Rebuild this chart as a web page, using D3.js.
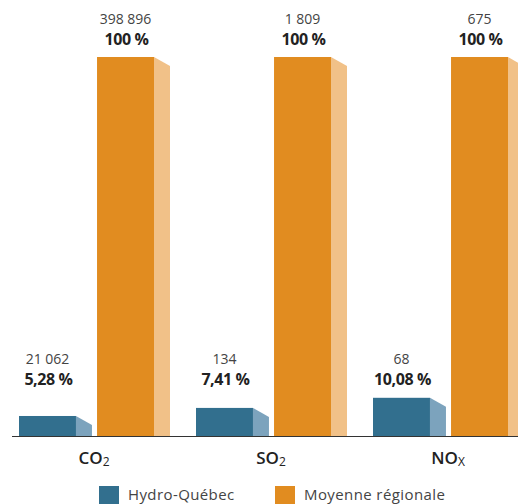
<!DOCTYPE html>
<html><head><meta charset="utf-8">
<script src="https://cdn.jsdelivr.net/npm/d3@7"></script>
<style>body{margin:0;background:#fff}svg{display:block}</style>
</head><body>
<script>
const categories = ["CO2", "SO2", "NOx"];
const catMain = ["CO", "SO", "NO"];
const catSub = ["2", "2", "X"];
const series = ["Hydro-Québec", "Moyenne régionale"];
const hqPercent = [5.28, 7.41, 10.08];
const regPercent = [100, 100, 100];
const hqValues = ["21 062", "134", "68"];
const regValues = ["398 896", "1 809", "675"];
const hqPctLabels = ["5,28 %", "7,41 %", "10,08 %"];
const regPctLabels = ["100 %", "100 %", "100 %"];

const W = 518, H = 504;
const svg = d3.select("body").append("svg").attr("width", W).attr("height", H);
const font = "'Open Sans', 'Noto Sans', sans-serif";

const x0 = d3.scaleBand().domain(categories).range([5.5, 5.5 + 177 * 3]);
const x1 = d3.scaleBand().domain(series).range([13.5, 148.5]).paddingInner(0.27);
const y = d3.scaleLinear().domain([0, 100]).range([436, 57]);

const colors = {
  "Hydro-Québec": {front: "#326f8e", side: "#7ca3bd"},
  "Moyenne régionale": {front: "#e18c20", side: "#f1c188"}
};
const depth = 16, dy = 9;

const rows = [];
categories.forEach((c, i) => {
  rows.push({cat: c, s: series[0], v: hqPercent[i], val: hqValues[i], pct: hqPctLabels[i], i});
  rows.push({cat: c, s: series[1], v: regPercent[i], val: regValues[i], pct: regPctLabels[i], i});
});

const g = svg.append("g");
rows.forEach(d => {
  const bx = x0(d.cat) + x1(d.s);
  const bw = x1.bandwidth();
  const top = y(d.v), base = y(0);
  const col = colors[d.s];
  g.append("path")
    .attr("d", `M${bx + bw},${top} L${bx + bw + depth},${Math.min(top + dy, base)} L${bx + bw + depth},${base} L${bx + bw},${base} Z`)
    .attr("fill", col.side);
  g.append("rect").attr("x", bx).attr("y", top).attr("width", bw).attr("height", base - top).attr("fill", col.front);
  const cx = bx + bw / 2;
  const isHQ = d.s === series[0];
  const y1 = isHQ ? 364 : 24;
  g.append("text").attr("x", cx).attr("y", y1).attr("text-anchor", "middle")
    .attr("font-family", font).attr("font-size", 14).attr("fill", "#444").text(d.val);
  g.append("text").attr("x", cx + 1).attr("y", y1 + 21).attr("text-anchor", "middle")
    .attr("font-family", font).attr("font-size", 16).attr("font-weight", "bold").attr("fill", "#222")
    .attr("letter-spacing", "-0.4").text(d.pct);
});

svg.append("line").attr("x1", 12).attr("x2", W).attr("y1", 436.5).attr("y2", 436.5)
  .attr("stroke", "#333").attr("stroke-width", 1.2);

categories.forEach((c, i) => {
  const cx = x0(c) + x0.bandwidth() / 2;
  const t = svg.append("text").attr("x", cx).attr("y", 464).attr("text-anchor", "middle")
    .attr("font-family", font).attr("font-size", 17).attr("font-weight", 600).attr("fill", "#222");
  t.append("tspan").text(catMain[i]);
  t.append("tspan").attr("font-size", 12).attr("font-weight", 400).attr("dy", 2).text(catSub[i]);
});

const legX = [99, 275];
series.forEach((s, i) => {
  svg.append("rect").attr("x", legX[i]).attr("y", 486).attr("width", 20).attr("height", 20).attr("fill", colors[s].front);
  svg.append("text").attr("x", legX[i] + 29).attr("y", 500).attr("font-family", font)
    .attr("font-size", 15).attr("letter-spacing", "0.4").attr("fill", "#444").text(s);
});
</script>
</body></html>
